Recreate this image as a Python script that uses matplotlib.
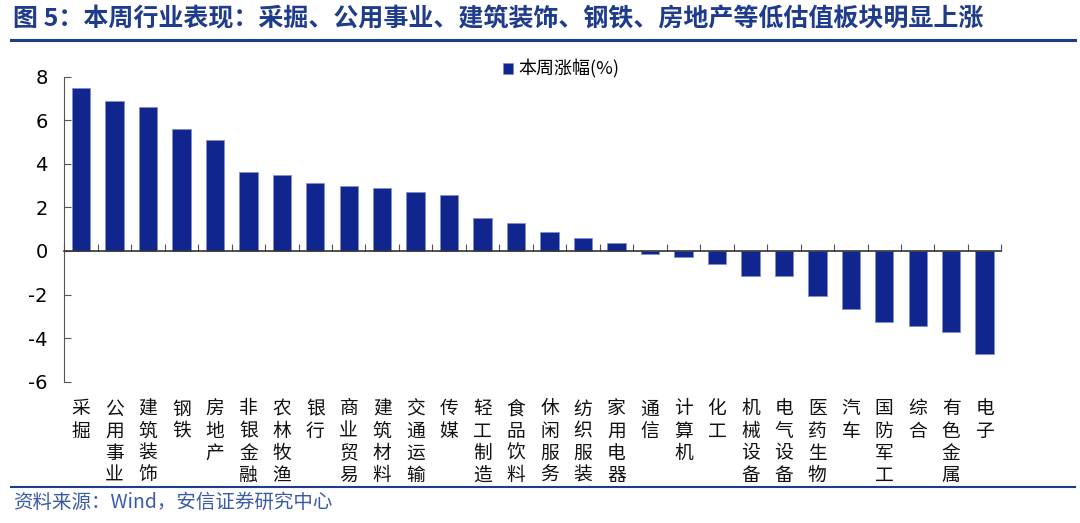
import matplotlib
matplotlib.use("Agg")
import matplotlib.pyplot as plt
import matplotlib.transforms as mtransforms
from matplotlib.lines import Line2D
import numpy as np

plt.rcParams['font.family'] = ['Noto Sans CJK SC', 'DejaVu Sans']

# data
industries = ['采掘', '公用事业', '建筑装饰', '钢铁', '房地产', '非银金融', '农林牧渔',
              '银行', '商业贸易', '建筑材料', '交通运输', '传媒', '轻工制造', '食品饮料',
              '休闲服务', '纺织服装', '家用电器', '通信', '计算机', '化工', '机械设备',
              '电气设备', '医药生物', '汽车', '国防军工', '综合', '有色金属', '电子']
weekly_change = [7.47, 6.88, 6.59, 5.58, 5.08, 3.62, 3.49, 3.14, 2.97, 2.88, 2.71, 2.58,
                 1.53, 1.27, 0.87, 0.58, 0.38, -0.14, -0.26, -0.58, -1.13, -1.16, -2.05,
                 -2.68, -3.26, -3.46, -3.72, -4.75]
yticks = [-6, -4, -2, 0, 2, 4, 6, 8]
series_name = '本周涨幅(%)'
title = '图 5：本周行业表现：采掘、公用事业、建筑装饰、钢铁、房地产等低估值板块明显上涨'
source = '资料来源：Wind，安信证券研究中心'

bar_color = '#10268E'
line_color = '#1F3B8C'

fig = plt.figure(figsize=(10.8, 5.23), dpi=100)
ax = fig.add_axes([0.0595, 0.2702, 0.8677, 0.5831])

x = np.arange(len(industries))
ax.bar(x, weekly_change, width=0.55, color=bar_color, edgecolor='#7f8fcf', linewidth=0.5,
       label=series_name, zorder=2)

ax.set_xlim(-0.5, len(industries) - 0.5)
ax.set_ylim(-6, 8)
ax.set_yticks(yticks)
ax.set_yticklabels([str(v) for v in yticks], fontsize=14, family='DejaVu Sans')
ax.tick_params(axis='y', direction='in', length=5, width=0.8, color='#555555', pad=12)

ax.spines['top'].set_visible(False)
ax.spines['right'].set_visible(False)
ax.spines['bottom'].set_position(('data', 0))
ax.spines['left'].set_color('#555555')
ax.spines['bottom'].set_color('#333333')
ax.spines['bottom'].set_linewidth(1.2)

ax.set_xticks(np.arange(-0.5, len(industries), 1.0))
ax.set_xticklabels([])
ax.tick_params(axis='x', direction='in', length=5, width=0.8, color='#555555')

# vertical category labels below the plot area
trans = mtransforms.blended_transform_factory(ax.transData, ax.transAxes)
for i, name in enumerate(industries):
    ax.text(i, -0.055, '\n'.join(name), transform=trans, ha='center', va='top',
            fontsize=13.5, linespacing=1.07, color='#111111')

leg = ax.legend(loc='upper center', bbox_to_anchor=(0.53, 1.11), frameon=False,
                fontsize=13, handlelength=0.55, handleheight=0.55, handletextpad=0.3)

fig.text(0.012, 0.962, title, fontsize=18, fontweight='bold', color=line_color,
         va='center', ha='left')
fig.add_artist(Line2D([0.01, 0.995], [0.924, 0.924], color=line_color, linewidth=2.2,
                      transform=fig.transFigure))
fig.add_artist(Line2D([0.01, 0.995], [0.069, 0.069], color=line_color, linewidth=1.5,
                      transform=fig.transFigure))
fig.text(0.012, 0.04, source, fontsize=14, color='#3A5BA8', style='italic',
         va='center', ha='left')

fig.savefig('out.png', dpi=100)
